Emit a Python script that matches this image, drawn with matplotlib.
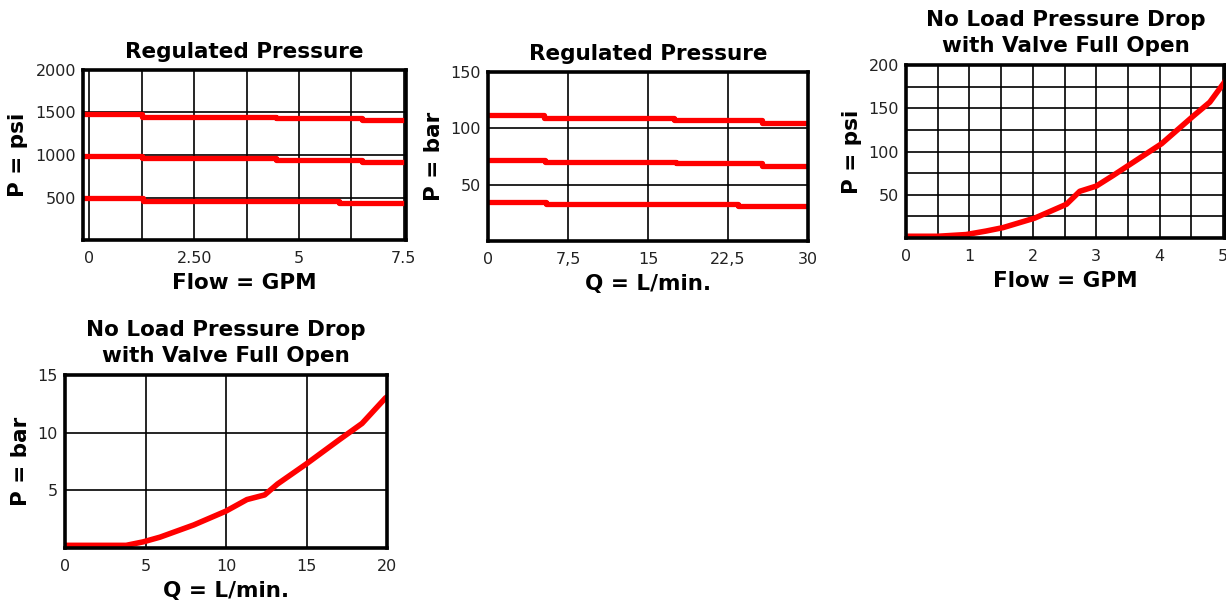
import matplotlib
matplotlib.use("Agg")
import matplotlib.pyplot as plt

plt.rcParams['font.family'] = ['DejaVu Sans']

# 1) Regulated pressure, psi vs GPM (step levels)
gpm_steps_hi = [-0.15, 1.25, 4.45, 6.5, 7.55]
psi_hi = [1480, 1450, 1430, 1410, 1410]
gpm_steps_mid = [-0.15, 1.25, 4.45, 6.5, 7.55]
psi_mid = [990, 960, 940, 920, 920]
gpm_steps_lo = [-0.15, 1.27, 5.96, 7.55]
psi_lo = [492, 453, 430, 430]

# 2) Regulated pressure, bar vs L/min
lpm_steps_hi = [0, 5.25, 17.4, 25.7, 30]
bar_hi = [111.5, 109, 107, 105, 105]
lpm_steps_mid = [0, 5.3, 17.6, 25.7, 30]
bar_mid = [72, 70.3, 68.8, 67, 67]
lpm_steps_lo = [0, 5.4, 23.4, 30]
bar_lo = [34.8, 33, 31, 31]

# 3) No load pressure drop, psi vs GPM
drop_gpm = [0, 0.5, 0.95, 1.26, 1.53, 2.03, 2.53, 2.74, 3.0, 3.26, 3.53, 4.03, 4.53, 4.79, 5.03]
drop_psi = [2, 2, 4, 8, 12, 23, 39, 54, 60, 72, 85, 109, 141, 157, 181]

# 4) No load pressure drop, bar vs L/min
drop_lpm = [0, 3.8, 4.85, 5.9, 8.0, 10.0, 11.3, 12.4, 13.2, 15.0, 17.0, 18.45, 19.9, 20]
drop_bar = [0.23, 0.23, 0.53, 0.94, 2.0, 3.2, 4.2, 4.6, 5.55, 7.3, 9.35, 10.8, 13.0, 13.1]

W, H = 1226, 607
fig = plt.figure(figsize=(W / 100, H / 100), dpi=100)


def make_ax(l, t, r, b):
    ax = fig.add_axes([l / W, 1 - b / H, (r - l) / W, (b - t) / H])
    for s in ax.spines.values():
        s.set_linewidth(2.6)
        s.set_color("black")
    ax.tick_params(which="both", length=0, labelsize=11.5, colors="#222222")
    ax.tick_params(axis="x", pad=8)
    ax.tick_params(axis="y", pad=5)
    ax.grid(which="both", color="black", linewidth=1.2)
    ax.set_axisbelow(True)
    return ax


def labels(ax, title, xl, yl):
    ax.set_title(title, fontsize=15.5, fontweight="bold", pad=9, linespacing=1.38)
    ax.set_xlabel(xl, fontsize=15.5, fontweight="bold", labelpad=5)
    ax.set_ylabel(yl, fontsize=15.5, fontweight="bold", labelpad=5)


red = "#ff0000"

ax1 = make_ax(83, 70, 406, 240)
for xs, ys in [(gpm_steps_hi, psi_hi), (gpm_steps_mid, psi_mid), (gpm_steps_lo, psi_lo)]:
    ax1.step(xs, ys, where="post", color=red, linewidth=3.8)
ax1.set_xlim(-0.15, 7.55)
ax1.set_ylim(0, 2000)
ax1.set_xticks([0, 2.5, 5, 7.5], ["0", "2.50", "5", "7.5"])
ax1.set_xticks([1.25, 3.75, 6.25], minor=True)
ax1.set_yticks([500, 1000, 1500, 2000])
labels(ax1, "Regulated Pressure", "Flow = GPM", "P = psi")

ax2 = make_ax(488, 72, 808, 241)
for xs, ys in [(lpm_steps_hi, bar_hi), (lpm_steps_mid, bar_mid), (lpm_steps_lo, bar_lo)]:
    ax2.step(xs, ys, where="post", color=red, linewidth=3.8)
ax2.set_xlim(0, 30)
ax2.set_ylim(0, 150)
ax2.set_xticks([0, 7.5, 15, 22.5, 30], ["0", "7,5", "15", "22,5", "30"])
ax2.set_yticks([50, 100, 150])
labels(ax2, "Regulated Pressure", "Q = L/min.", "P = bar")

ax3 = make_ax(906, 65, 1225, 238)
ax3.plot(drop_gpm, drop_psi, color=red, linewidth=4)
ax3.set_xlim(0, 5.03)
ax3.set_ylim(0, 200)
ax3.set_xticks([0, 1, 2, 3, 4, 5])
ax3.set_xticks([0.5, 1.5, 2.5, 3.5, 4.5], minor=True)
ax3.set_yticks([50, 100, 150, 200])
ax3.set_yticks([25, 75, 125, 175], minor=True)
labels(ax3, "No Load Pressure Drop\nwith Valve Full Open", "Flow = GPM", "P = psi")

ax4 = make_ax(65, 375, 387, 548)
ax4.plot(drop_lpm, drop_bar, color=red, linewidth=4)
ax4.set_xlim(0, 20)
ax4.set_ylim(0, 15)
ax4.set_xticks([0, 5, 10, 15, 20])
ax4.set_yticks([5, 10, 15])
labels(ax4, "No Load Pressure Drop\nwith Valve Full Open", "Q = L/min.", "P = bar")

fig.savefig("out.png", dpi=100)
